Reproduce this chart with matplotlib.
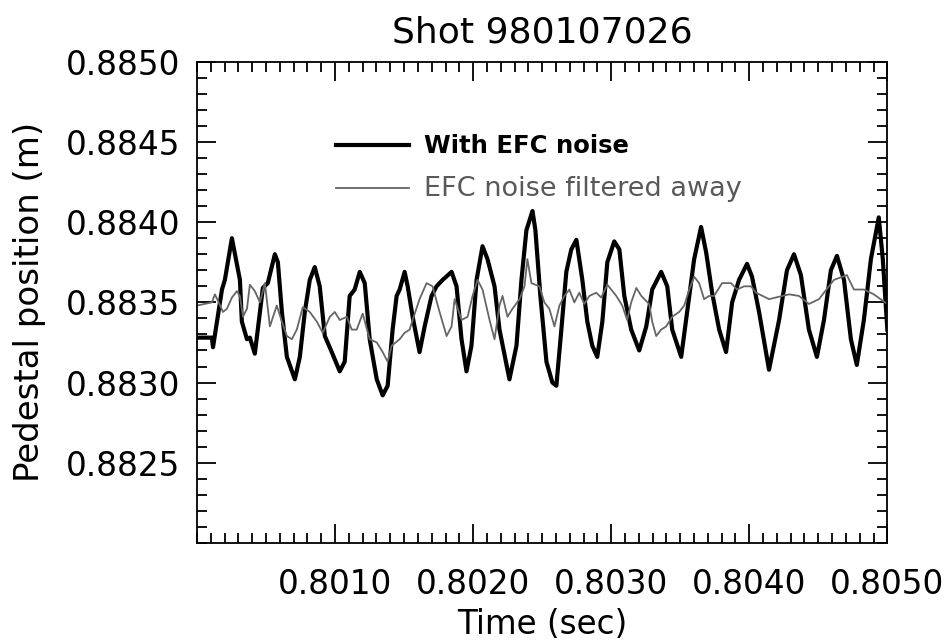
import numpy as np
import matplotlib.pyplot as plt
from matplotlib.ticker import MultipleLocator, FormatStrFormatter

# Time after 0.800 s, in ms
t_noise_ms = [0.000, 0.108, 0.116, 0.181, 0.202, 0.253, 0.311, 0.325, 0.362, 0.383,
              0.419, 0.456, 0.477, 0.513, 0.564, 0.586, 0.615, 0.651, 0.709, 0.745,
              0.781, 0.817, 0.853, 0.889, 0.926, 0.976, 1.034, 1.070, 1.106, 1.142,
              1.179, 1.215, 1.251, 1.302, 1.345, 1.381, 1.417, 1.446, 1.468, 1.504,
              1.526, 1.562, 1.612, 1.649, 1.699, 1.735, 1.779, 1.844, 1.880, 1.916,
              1.952, 1.988, 2.025, 2.068, 2.104, 2.155, 2.191, 2.263, 2.314, 2.350,
              2.386, 2.430, 2.451, 2.487, 2.531, 2.574, 2.603, 2.639, 2.675, 2.711,
              2.748, 2.791, 2.827, 2.863, 2.899, 2.936, 2.972, 3.022, 3.059, 3.095,
              3.145, 3.203, 3.254, 3.297, 3.362, 3.406, 3.442, 3.507, 3.550, 3.601,
              3.651, 3.688, 3.731, 3.782, 3.832, 3.876, 3.926, 3.984, 4.020, 4.071,
              4.143, 4.216, 4.273, 4.324, 4.374, 4.432, 4.490, 4.541, 4.591, 4.635,
              4.686, 4.736, 4.779, 4.830, 4.881, 4.938, 4.967, 5.000]
pos_noise = [0.88328, 0.88328, 0.88322, 0.88358, 0.88364, 0.88390, 0.88364, 0.88338, 0.88327, 0.88328,
             0.88318, 0.88344, 0.88359, 0.88362, 0.88380, 0.88375, 0.88344, 0.88316, 0.88302, 0.88316,
             0.88344, 0.88364, 0.88372, 0.88360, 0.88329, 0.88319, 0.88307, 0.88313, 0.88354, 0.88358,
             0.88369, 0.88362, 0.88327, 0.88302, 0.88292, 0.88298, 0.88333, 0.88354, 0.88358, 0.88369,
             0.88360, 0.88341, 0.88319, 0.88335, 0.88354, 0.88360, 0.88364, 0.88369, 0.88360, 0.88327,
             0.88307, 0.88323, 0.88364, 0.88385, 0.88377, 0.88360, 0.88333, 0.88302, 0.88323, 0.88364,
             0.88395, 0.88407, 0.88395, 0.88354, 0.88313, 0.88300, 0.88298, 0.88333, 0.88369, 0.88383,
             0.88389, 0.88364, 0.88338, 0.88323, 0.88316, 0.88338, 0.88375, 0.88388, 0.88383, 0.88354,
             0.88333, 0.88320, 0.88335, 0.88358, 0.88369, 0.88360, 0.88333, 0.88316, 0.88344, 0.88377,
             0.88397, 0.88381, 0.88356, 0.88333, 0.88319, 0.88350, 0.88364, 0.88374, 0.88366, 0.88344,
             0.88308, 0.88339, 0.88370, 0.88380, 0.88367, 0.88333, 0.88316, 0.88339, 0.88370, 0.88379,
             0.88364, 0.88327, 0.88311, 0.88339, 0.88377, 0.88403, 0.88377, 0.88333]

t_filt_ms = [0.000, 0.108, 0.130, 0.152, 0.188, 0.217, 0.253, 0.289, 0.311, 0.333,
             0.362, 0.383, 0.419, 0.456, 0.492, 0.528, 0.578, 0.615, 0.651, 0.687,
             0.723, 0.766, 0.817, 0.868, 0.911, 0.962, 0.998, 1.034, 1.085, 1.121,
             1.157, 1.200, 1.251, 1.302, 1.345, 1.381, 1.410, 1.468, 1.504, 1.540,
             1.562, 1.612, 1.663, 1.706, 1.757, 1.808, 1.844, 1.866, 1.916, 1.960,
             1.996, 2.032, 2.068, 2.119, 2.155, 2.191, 2.213, 2.249, 2.285, 2.336,
             2.372, 2.393, 2.422, 2.480, 2.516, 2.552, 2.589, 2.625, 2.661, 2.697,
             2.733, 2.769, 2.805, 2.842, 2.892, 2.928, 2.972, 3.037, 3.080, 3.116,
             3.145, 3.182, 3.218, 3.275, 3.297, 3.326, 3.362, 3.398, 3.442, 3.492,
             3.529, 3.565, 3.601, 3.637, 3.673, 3.709, 3.745, 3.803, 3.868, 3.912,
             3.962, 4.013, 4.049, 4.143, 4.288, 4.360, 4.432, 4.505, 4.613, 4.707,
             4.758, 4.830, 4.902, 5.000]
pos_filt = [0.88348, 0.88350, 0.88355, 0.88351, 0.88344, 0.88346, 0.88353, 0.88357, 0.88354, 0.88341,
            0.88346, 0.88361, 0.88357, 0.88350, 0.88362, 0.88335, 0.88348, 0.88338, 0.88329, 0.88327,
            0.88333, 0.88347, 0.88344, 0.88338, 0.88331, 0.88341, 0.88344, 0.88339, 0.88341, 0.88333,
            0.88333, 0.88343, 0.88327, 0.88325, 0.88319, 0.88313, 0.88323, 0.88327, 0.88331, 0.88333,
            0.88339, 0.88352, 0.88362, 0.88360, 0.88344, 0.88329, 0.88335, 0.88352, 0.88339, 0.88341,
            0.88354, 0.88364, 0.88358, 0.88339, 0.88327, 0.88348, 0.88354, 0.88341, 0.88346, 0.88352,
            0.88360, 0.88377, 0.88362, 0.88360, 0.88350, 0.88346, 0.88335, 0.88348, 0.88354, 0.88358,
            0.88350, 0.88356, 0.88349, 0.88354, 0.88356, 0.88353, 0.88361, 0.88354, 0.88348, 0.88339,
            0.88350, 0.88359, 0.88354, 0.88349, 0.88338, 0.88329, 0.88333, 0.88335, 0.88341, 0.88344,
            0.88348, 0.88358, 0.88366, 0.88362, 0.88352, 0.88354, 0.88354, 0.88362, 0.88362, 0.88358,
            0.88360, 0.88360, 0.88356, 0.88352, 0.88355, 0.88354, 0.88349, 0.88352, 0.88364, 0.88367,
            0.88358, 0.88358, 0.88355, 0.88349]

x_ticks = [0.8010, 0.8020, 0.8030, 0.8040, 0.8050]
y_ticks = [0.8825, 0.8830, 0.8835, 0.8840, 0.8845, 0.8850]

t_noise = 0.8 + np.array(t_noise_ms) / 1000.0
t_filt = 0.8 + np.array(t_filt_ms) / 1000.0

plt.rcParams['font.family'] = 'DejaVu Sans'

fig = plt.figure(figsize=(9.47, 6.44), dpi=100)
ax = fig.add_axes([0.208, 0.157, 0.729, 0.747])

ax.plot(t_noise, pos_noise, color='black', lw=3.0, solid_joinstyle='round',
        label='With EFC noise')
ax.plot(t_filt, pos_filt, color='0.4', lw=1.3, label='EFC noise filtered away')

ax.set_xlim(0.8000, 0.8050)
ax.set_ylim(0.8820, 0.8850)

ax.set_xticks(x_ticks)
ax.set_yticks(y_ticks)
ax.xaxis.set_minor_locator(MultipleLocator(0.0001))
ax.yaxis.set_minor_locator(MultipleLocator(0.0001))
ax.xaxis.set_major_formatter(FormatStrFormatter('%.4f'))
ax.yaxis.set_major_formatter(FormatStrFormatter('%.4f'))

ax.tick_params(which='both', direction='in', top=True, right=True, width=1.3)
ax.tick_params(which='major', length=14, labelsize=23.5)
ax.tick_params(axis='y', which='major', pad=12)
ax.tick_params(axis='x', which='major', pad=18)
ax.tick_params(which='minor', length=7)
for s in ax.spines.values():
    s.set_linewidth(1.3)

ax.set_title('Shot 980107026', fontsize=26, pad=14)
ax.set_xlabel('Time (sec)', fontsize=23.5, labelpad=5)
ax.set_ylabel('Pedestal position (m)', fontsize=24.5, labelpad=14)

leg = ax.legend(loc='upper left', bbox_to_anchor=(0.17, 0.895), frameon=False,
                fontsize=17.5, handlelength=3.0, handletextpad=0.6, labelspacing=0.75)
txt_a, txt_b = leg.get_texts()
txt_a.set_fontweight('bold')
txt_b.set_color('0.35')
txt_b.set_fontsize(19.5)

fig.savefig('out.png', dpi=100)
